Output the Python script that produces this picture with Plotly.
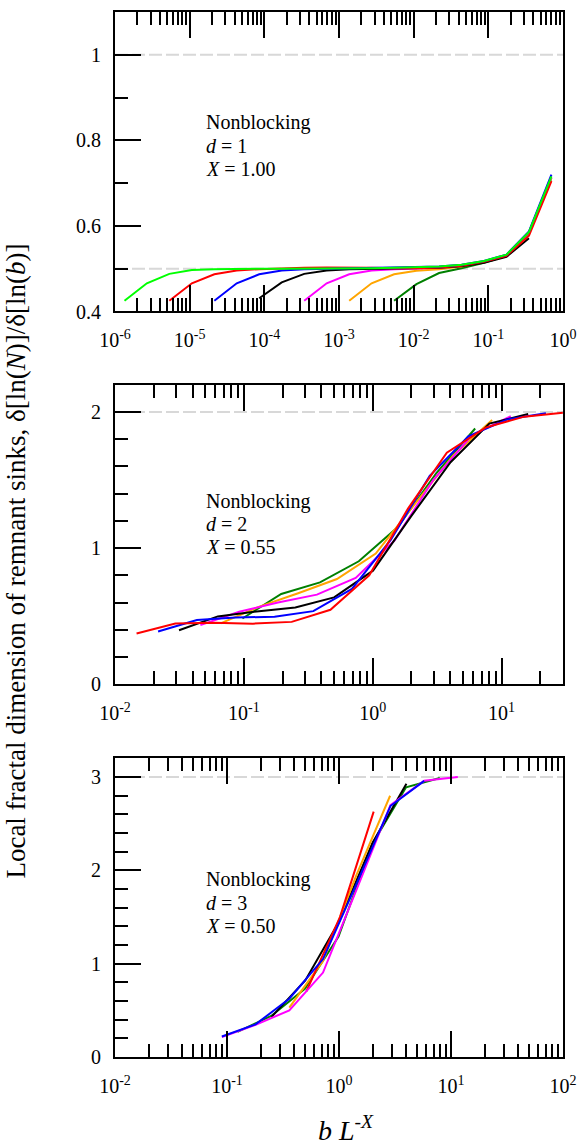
import plotly.graph_objects as go

FONT = "Liberation Serif"

# ---------------- Panel 1: d = 1, X = 1.00 ----------------
p1_lime_x = [1.34e-6, 2.67e-6, 5.34e-6, 1.07e-5, 2.14e-5, 4.27e-5, 8.54e-5, 1.71e-4, 3.42e-4, 6.84e-4,
             1.37e-3, 2.73e-3, 5.47e-3, 1.09e-2, 2.19e-2, 4.38e-2, 8.75e-2, 0.175, 0.35, 0.70]
p1_lime_y = [0.425, 0.466, 0.488, 0.497, 0.499, 0.500, 0.500, 0.500, 0.500, 0.500,
             0.501, 0.501, 0.502, 0.503, 0.505, 0.509, 0.518, 0.533, 0.586, 0.716]
p1_red_x = [5.34e-6, 1.07e-5, 2.14e-5, 4.27e-5, 8.54e-5, 1.71e-4, 3.42e-4, 6.84e-4, 1.37e-3,
            2.73e-3, 5.47e-3, 1.09e-2, 2.19e-2, 4.38e-2, 8.75e-2, 0.175, 0.35, 0.70]
p1_red_y = [0.425, 0.466, 0.487, 0.496, 0.499, 0.501, 0.502, 0.503, 0.503,
            0.502, 0.501, 0.501, 0.503, 0.507, 0.516, 0.530, 0.577, 0.705]
p1_blue_x = [2.14e-5, 4.27e-5, 8.54e-5, 1.71e-4, 3.42e-4, 6.84e-4, 1.37e-3, 2.73e-3,
             5.47e-3, 1.09e-2, 2.19e-2, 4.38e-2, 8.75e-2, 0.175, 0.35, 0.70]
p1_blue_y = [0.425, 0.466, 0.487, 0.496, 0.499, 0.500, 0.501, 0.501,
             0.502, 0.503, 0.505, 0.509, 0.518, 0.533, 0.587, 0.720]
p1_black_x = [8.54e-5, 1.71e-4, 3.42e-4, 6.84e-4, 1.37e-3, 2.73e-3, 5.47e-3,
              1.09e-2, 2.19e-2, 4.38e-2, 8.75e-2, 0.175, 0.35]
p1_black_y = [0.431, 0.468, 0.488, 0.496, 0.499, 0.500, 0.500,
              0.501, 0.502, 0.506, 0.514, 0.528, 0.571]
p1_magenta_x = [3.42e-4, 6.84e-4, 1.37e-3, 2.73e-3, 5.47e-3, 1.09e-2,
                2.19e-2, 4.38e-2, 8.75e-2, 0.175, 0.35, 0.70]
p1_magenta_y = [0.425, 0.466, 0.487, 0.496, 0.499, 0.500,
                0.502, 0.507, 0.517, 0.532, 0.585, 0.714]
p1_orange_x = [1.37e-3, 2.73e-3, 5.47e-3, 1.09e-2, 2.19e-2, 4.38e-2, 8.75e-2, 0.175, 0.35, 0.70]
p1_orange_y = [0.425, 0.466, 0.487, 0.495, 0.499, 0.505, 0.516, 0.531, 0.584, 0.713]
p1_dkgreen_x = [5.47e-3, 1.09e-2, 2.19e-2, 4.38e-2, 8.75e-2, 0.175, 0.35, 0.70]
p1_dkgreen_y = [0.425, 0.464, 0.490, 0.501, 0.514, 0.530, 0.582, 0.712]

# ---------------- Panel 2: d = 2, X = 0.55 ----------------
p2_red_x = [0.0147, 0.0294, 0.0588, 0.1175, 0.235, 0.47, 0.94, 1.88, 3.76, 7.52, 15.0, 29.9]
p2_red_y = [0.372, 0.446, 0.452, 0.445, 0.458, 0.547, 0.800, 1.29, 1.70, 1.885, 1.965, 1.993]
p2_blue_x = [0.0216, 0.0432, 0.0864, 0.173, 0.346, 0.69, 1.38, 2.77, 5.53, 11.1, 22.1]
p2_blue_y = [0.387, 0.471, 0.490, 0.496, 0.537, 0.700, 1.06, 1.53, 1.82, 1.945, 1.99]
p2_black_x = [0.0314, 0.0628, 0.1256, 0.251, 0.502, 1.005, 2.01, 4.02, 8.04, 16.1]
p2_black_y = [0.397, 0.498, 0.535, 0.564, 0.638, 0.834, 1.24, 1.63, 1.914, 1.985]
p2_magenta_x = [0.046, 0.092, 0.184, 0.369, 0.738, 1.475, 2.95, 5.9, 11.8]
p2_magenta_y = [0.434, 0.532, 0.600, 0.658, 0.780, 1.055, 1.50, 1.83, 1.968]
p2_orange_x = [0.066, 0.132, 0.264, 0.528, 1.056, 2.11, 4.22, 8.45]
p2_orange_y = [0.447, 0.570, 0.668, 0.773, 0.960, 1.32, 1.68, 1.94]
p2_dkgreen_x = [0.0975, 0.195, 0.39, 0.78, 1.56, 3.12, 6.24]
p2_dkgreen_y = [0.483, 0.663, 0.748, 0.903, 1.153, 1.55, 1.878]

# ---------------- Panel 3: d = 3, X = 0.50 ----------------
p3_dkgreen_x = [0.124, 0.248, 0.496, 0.99, 1.98, 3.97, 7.94]
p3_dkgreen_y = [0.27, 0.44, 0.73, 1.29, 2.28, 2.89, 2.99]
p3_black_x = [0.25, 0.5, 1.0, 2.0, 4.0]
p3_black_y = [0.43, 0.82, 1.45, 2.30, 2.93]
p3_orange_x = [0.36, 0.72, 1.43, 2.86]
p3_orange_y = [0.53, 1.03, 1.95, 2.80]
p3_red_x = [0.51, 1.02, 2.04]
p3_red_y = [0.70, 1.50, 2.63]
p3_magenta_x = [0.09, 0.18, 0.36, 0.72, 1.44, 2.88, 5.76, 11.5]
p3_magenta_y = [0.214, 0.345, 0.50, 0.905, 1.80, 2.70, 2.96, 3.0]
p3_blue_x = [0.09, 0.18, 0.36, 0.72, 1.44, 2.88, 5.76]
p3_blue_y = [0.22, 0.35, 0.625, 1.05, 1.86, 2.69, 2.96]

# reference (dashed) levels
p1_ref = [1.0, 0.5]
p2_ref = [2.0]
p3_ref = [3.0]

# tick labels
p1_xticks = [1e-6, 1e-5, 1e-4, 1e-3, 1e-2, 1e-1, 1e0]
p1_xtext = ["10<sup>-6</sup>", "10<sup>-5</sup>", "10<sup>-4</sup>", "10<sup>-3</sup>",
            "10<sup>-2</sup>", "10<sup>-1</sup>", "10<sup>0</sup>"]
p2_xticks = [1e-2, 1e-1, 1e0, 1e1]
p2_xtext = ["10<sup>-2</sup>", "10<sup>-1</sup>", "10<sup>0</sup>", "10<sup>1</sup>"]
p3_xticks = [1e-2, 1e-1, 1e0, 1e1, 1e2]
p3_xtext = ["10<sup>-2</sup>", "10<sup>-1</sup>", "10<sup>0</sup>", "10<sup>1</sup>", "10<sup>2</sup>"]
p1_yticks = [0.4, 0.6, 0.8, 1.0]
p1_ytext = ["0.4", "0.6", "0.8", "1"]
p2_yticks = [0, 1, 2]
p2_ytext = ["0", "1", "2"]
p3_yticks = [0, 1, 2, 3]
p3_ytext = ["0", "1", "2", "3"]

COL = {"lime": "#00ff00", "red": "#ff0000", "blue": "#0000ff", "black": "#000000",
       "magenta": "#ff00ff", "orange": "#ffa500", "dkgreen": "#008000"}

panels = [
    ("x", "y", [("dkgreen", p1_dkgreen_x, p1_dkgreen_y), ("orange", p1_orange_x, p1_orange_y),
                ("magenta", p1_magenta_x, p1_magenta_y), ("black", p1_black_x, p1_black_y),
                ("red", p1_red_x, p1_red_y), ("blue", p1_blue_x, p1_blue_y),
                ("lime", p1_lime_x, p1_lime_y)]),
    ("x2", "y2", [("dkgreen", p2_dkgreen_x, p2_dkgreen_y), ("orange", p2_orange_x, p2_orange_y),
                  ("magenta", p2_magenta_x, p2_magenta_y), ("black", p2_black_x, p2_black_y),
                  ("blue", p2_blue_x, p2_blue_y), ("red", p2_red_x, p2_red_y)]),
    ("x3", "y3", [("dkgreen", p3_dkgreen_x, p3_dkgreen_y), ("black", p3_black_x, p3_black_y),
                  ("orange", p3_orange_x, p3_orange_y), ("red", p3_red_x, p3_red_y),
                  ("magenta", p3_magenta_x, p3_magenta_y), ("blue", p3_blue_x, p3_blue_y)]),
]

fig = go.Figure()
for xa, ya, series in panels:
    for c, xs, ys in series:
        fig.add_trace(go.Scatter(x=xs, y=ys, mode="lines", xaxis=xa, yaxis=ya,
                                 line=dict(color=COL[c], width=2), showlegend=False,
                                 hoverinfo="skip"))

# dashed reference lines
for (xa, ya), levels in zip([("x", "y"), ("x2", "y2"), ("x3", "y3")], [p1_ref, p2_ref, p3_ref]):
    for lv in levels:
        fig.add_shape(type="line", xref=xa + " domain", yref=ya, x0=0, x1=1, y0=lv, y1=lv,
                      line=dict(color="#d8d8d8", width=2, dash="13px,4px"), layer="below")


def xaxis(rng, tv, tt):
    return dict(type="log", range=rng, tickmode="array", tickvals=tv, ticktext=tt,
                ticks="inside", ticklen=26, tickwidth=2, tickcolor="black",
                showline=True, linewidth=2, linecolor="black", mirror="ticks",
                showgrid=False, zeroline=False, ticklabelstandoff=10,
                tickfont=dict(family=FONT, size=20, color="black"),
                minor=dict(ticks="inside", ticklen=13, tickwidth=2, tickcolor="black",
                           dtick="D1", showgrid=False),
                domain=[0, 1])


def yaxis(rng, tv, tt, mdt, dom):
    return dict(range=rng, tickmode="array", tickvals=tv, ticktext=tt,
                ticks="inside", ticklen=26, tickwidth=2, tickcolor="black",
                showline=True, linewidth=2, linecolor="black", mirror=True,
                showgrid=False, zeroline=False, ticklabelstandoff=8,
                tickfont=dict(family=FONT, size=20, color="black"),
                minor=dict(ticks="inside", ticklen=13, tickwidth=2, tickcolor="black",
                           tickmode="linear", tick0=0, dtick=mdt, showgrid=False),
                domain=dom)


fig.update_layout(
    width=587, height=1148,
    margin=dict(l=115, r=22, t=10, b=91.3, pad=0),
    paper_bgcolor="white", plot_bgcolor="white",
    font=dict(family=FONT, color="black"),
    xaxis=xaxis([-6, 0], p1_xticks, p1_xtext) | dict(anchor="y"),
    xaxis2=xaxis([-2, 1.477], p2_xticks, p2_xtext) | dict(anchor="y2"),
    xaxis3=xaxis([-2, 2], p3_xticks, p3_xtext) | dict(anchor="y3"),
    yaxis=yaxis([0.4, 1.1], p1_yticks, p1_ytext, 0.1, [0.7134, 1.0]) | dict(anchor="x"),
    yaxis2=yaxis([0, 2.2], p2_yticks, p2_ytext, 0.2, [0.3567, 0.6434]) | dict(anchor="x2"),
    yaxis3=yaxis([0, 3.2], p3_yticks, p3_ytext, 0.2, [0, 0.2857]) | dict(anchor="x3"),
)

labels = [
    ("x", "y", [("Nonblocking", 0.6307), ("<i>d</i> = 1", 0.554), ("<i>X</i> = 1.00", 0.4773)]),
    ("x2", "y2", [("Nonblocking", 0.611), ("<i>d</i> = 2", 0.5343), ("<i>X</i> = 0.55", 0.4577)]),
    ("x3", "y3", [("Nonblocking", 0.5936), ("<i>d</i> = 3", 0.5167), ("<i>X</i> = 0.50", 0.4398)]),
]
for xa, ya, lines in labels:
    for txt, yy in lines:
        fig.add_annotation(text=txt, xref=xa + " domain", yref=ya + " domain", x=0.202, y=yy,
                           xanchor="left", yanchor="middle", showarrow=False, borderpad=0,
                           font=dict(family=FONT, size=20, color="black"))

fig.add_annotation(text="Local fractal dimension of remnant sinks, δ[ln(<i>N</i>)]/δ[ln(<i>b</i>)]",
                   xref="paper", yref="paper", x=-0.22, y=0.4745, textangle=-90,
                   xanchor="center", yanchor="middle", showarrow=False,
                   font=dict(family=FONT, size=27, color="black"))
fig.add_annotation(text="<i>b L</i><sup>-<i>X</i></sup>",
                   xref="paper", yref="paper", x=0.515, y=-0.0866,
                   xanchor="center", yanchor="bottom", showarrow=False, borderpad=0,
                   font=dict(family=FONT, size=28, color="black"))

fig.write_html("out.html")
